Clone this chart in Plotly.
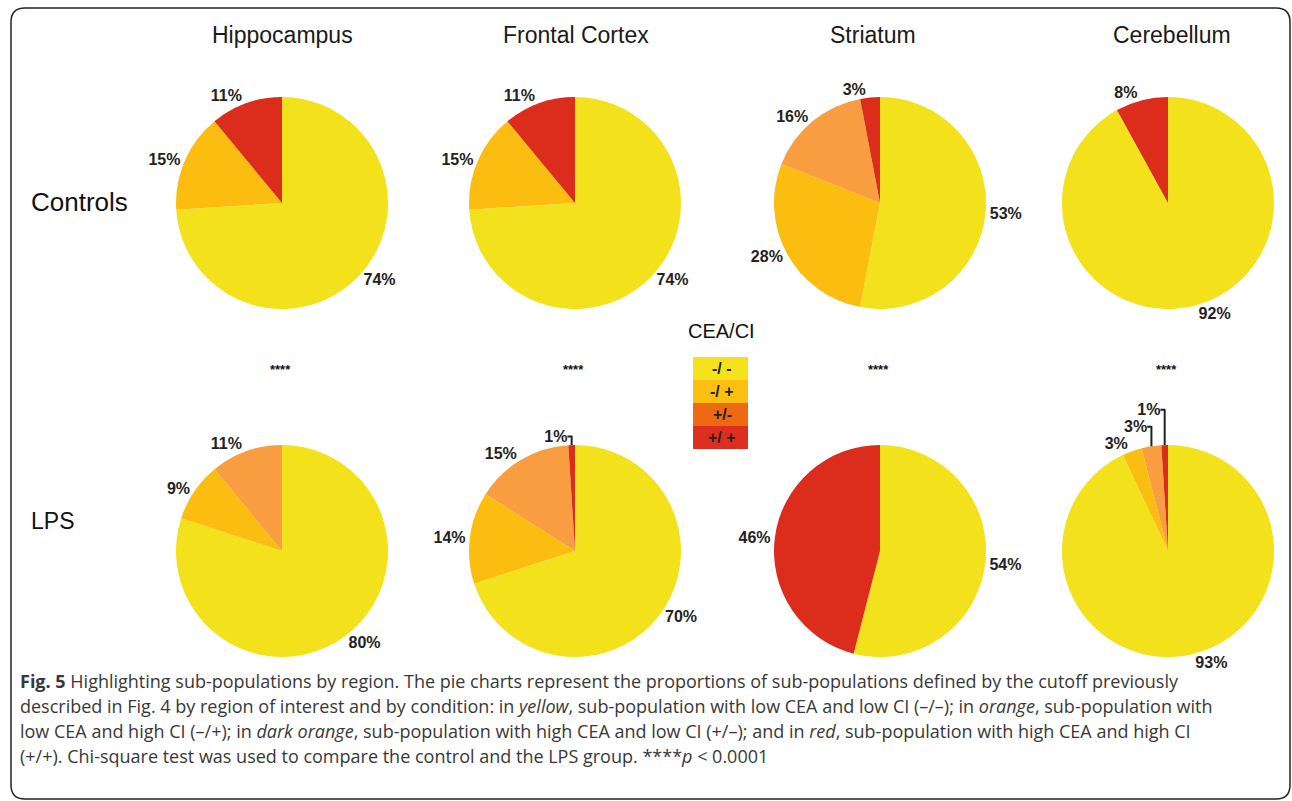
import plotly.graph_objects as go

W, H = 1292, 801

regions = ["Hippocampus", "Frontal Cortex", "Striatum", "Cerebellum"]
conditions = ["Controls", "LPS"]
categories = ["-/ -", "-/ +", "+/-", "+/ +"]

# values per region: [-/-, -/+, +/-, +/+]
controls_values = [
    [74, 15, 0, 11],
    [74, 15, 0, 11],
    [53, 28, 16, 3],
    [92, 0, 0, 8],
]
lps_values = [
    [80, 9, 11, 0],
    [70, 14, 15, 1],
    [54, 0, 0, 46],
    [93, 3, 3, 1],
]
significance = ["****", "****", "****", "****"]

pie_colors = ["#F3E11B", "#FBBD10", "#F89D40", "#DC2C1C"]
legend_colors = ["#F3E21C", "#FBBF12", "#EF6912", "#DD2F20"]

caption_lines = [
    "<b>Fig. 5</b> Highlighting sub-populations by region. The pie charts represent the proportions of sub-populations defined by the cutoff previously",
    "described in Fig. 4 by region of interest and by condition: in <i>yellow</i>, sub-population with low CEA and low CI (\u2013/\u2013); in <i>orange</i>, sub-population with",
    "low CEA and high CI (\u2013/+); in <i>dark orange</i>, sub-population with high CEA and low CI (+/\u2013); and in <i>red</i>, sub-population with high CEA and high CI",
    "(+/+). Chi-square test was used to compare the control and the LPS group. ****<i>p</i> < 0.0001",
]

# layout (pixels)
col_cx = [282, 575, 880, 1168]
col_title_x = [282, 576, 873, 1172]
row_cy = [203, 551]
R = 106

def px_x(x):
    return x / W

def px_y(y):
    return 1 - y / H

fig = go.Figure()

for r, vals_all in enumerate([controls_values, lps_values]):
    for c, vals in enumerate(vals_all):
        v = [x for x in vals if x > 0]
        labs = [categories[i] for i, x in enumerate(vals) if x > 0]
        cols = [pie_colors[i] for i, x in enumerate(vals) if x > 0]
        cx, cy = col_cx[c], row_cy[r]
        fig.add_trace(go.Pie(
            values=v, labels=labs,
            marker=dict(colors=cols, line=dict(width=0)),
            sort=False, direction="clockwise", rotation=0,
            texttemplate="%{value}%", textposition="outside",
            textfont=dict(family="Liberation Sans", size=16, color="#222222", weight="bold"),
            domain=dict(x=[px_x(cx - R), px_x(cx + R)], y=[px_y(cy + R), px_y(cy - R)]),
            showlegend=False, hoverinfo="label+value",
        ))

annotations = []
for c, name in enumerate(regions):
    annotations.append(dict(x=px_x(col_title_x[c]), y=px_y(35), text=name, showarrow=False,
                            xref="paper", yref="paper", xanchor="center", yanchor="middle",
                            font=dict(family="Liberation Sans", size=23, color="#1a1a1a")))
    annotations.append(dict(x=px_x(col_cx[c] - 2), y=px_y(369), text=significance[c], showarrow=False,
                            xref="paper", yref="paper", xanchor="center", yanchor="middle",
                            font=dict(family="Liberation Sans", size=13, color="#111111", weight="bold")))

row_label_y = [202, 521]
row_label_size = [26, 23]
for r, name in enumerate(conditions):
    annotations.append(dict(x=px_x(29), y=px_y(row_label_y[r]), text=name, showarrow=False,
                            xref="paper", yref="paper", xanchor="left", yanchor="middle",
                            font=dict(family="Liberation Sans", size=row_label_size[r], color="#111111")))

# legend
annotations.append(dict(x=px_x(721), y=px_y(331), text="CEA/CI", showarrow=False,
                        xref="paper", yref="paper", xanchor="center", yanchor="middle",
                        font=dict(family="Liberation Sans", size=20, color="#111111")))
shapes = []
lx0, lx1, ly0, lh = 693, 748, 357, 23
for i, cat in enumerate(categories):
    y0 = ly0 + i * lh
    shapes.append(dict(type="rect", xref="paper", yref="paper",
                       x0=px_x(lx0), x1=px_x(lx1), y0=px_y(y0 + lh), y1=px_y(y0),
                       fillcolor=legend_colors[i], line=dict(width=0), layer="below"))
    annotations.append(dict(x=px_x(722), y=px_y(y0 + lh / 2), text=cat, showarrow=False,
                            xref="paper", yref="paper", xanchor="center", yanchor="middle",
                            font=dict(family="Liberation Sans", size=16, color="#222222", weight="bold")))

# caption
for i, line in enumerate(caption_lines):
    annotations.append(dict(x=px_x(18), y=px_y(681 + i * 25), text=line, showarrow=False,
                            xref="paper", yref="paper", xanchor="left", yanchor="middle",
                            font=dict(family="Open Sans", size=18, color="#383838")))

# rounded frame
fx0, fx1, fy0, fy1, rr = 11, 1290, 8, 799, 14
def P(x, y):
    return f"{px_x(x):.5f},{px_y(y):.5f}"
path = (f"M {P(fx0 + rr, fy0)} L {P(fx1 - rr, fy0)} Q {P(fx1, fy0)} {P(fx1, fy0 + rr)} "
        f"L {P(fx1, fy1 - rr)} Q {P(fx1, fy1)} {P(fx1 - rr, fy1)} "
        f"L {P(fx0 + rr, fy1)} Q {P(fx0, fy1)} {P(fx0, fy1 - rr)} "
        f"L {P(fx0, fy0 + rr)} Q {P(fx0, fy0)} {P(fx0 + rr, fy0)} Z")
shapes.append(dict(type="path", xref="paper", yref="paper", path=path,
                   line=dict(color="#222222", width=1.5)))

fig.update_layout(
    width=W, height=H, margin=dict(l=0, r=0, t=0, b=0),
    paper_bgcolor="white", plot_bgcolor="white",
    annotations=annotations, shapes=shapes,
)

fig.write_html("out.html", config={"displayModeBar": False},
               post_script="document.body.style.margin='0';document.body.style.overflow='hidden';")
